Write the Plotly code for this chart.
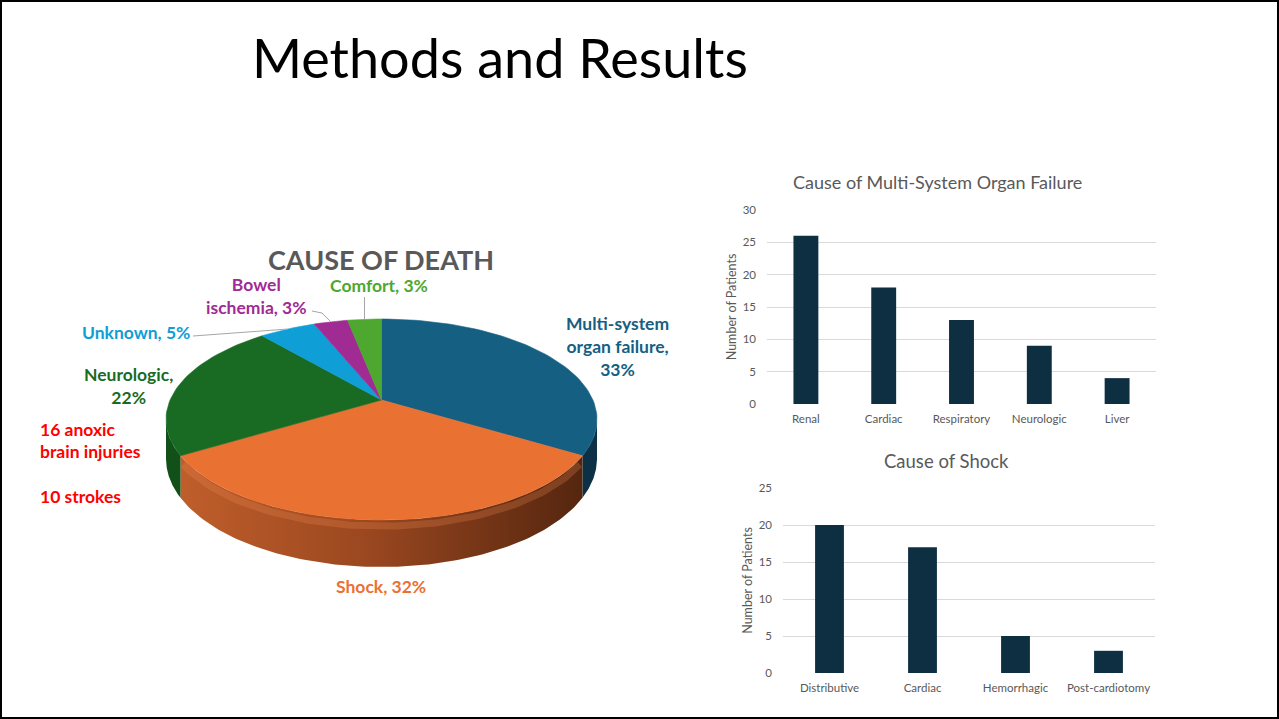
import numpy as np
import plotly.graph_objects as go

W, H = 1279, 719

# ---- Cause of death (percent of deaths) ----
death_names = ["Multi-system organ failure", "Shock", "Neurologic", "Unknown", "Bowel ischemia", "Comfort"]
death_pct = [33, 32, 22, 5, 3, 3]
neuro_breakdown = ["16 anoxic", "brain injuries", "10 strokes"]

# ---- Cause of multi-system organ failure (patients) ----
mof_causes = ["Renal", "Cardiac", "Respiratory", "Neurologic", "Liver"]
mof_counts = [26, 18, 13, 9, 4]

# ---- Cause of shock (patients) ----
shock_causes = ["Distributive", "Cardiac", "Hemorrhagic", "Post-cardiotomy"]
shock_counts = [20, 17, 5, 3]

# styling
top_colors = ["#156082", "#E97132", "#196B24", "#0F9ED5", "#A02B93", "#4EA72E"]
side_colors = ["#0C3146", "#A04A20", "#12501A", "#0A5F82", "#5E1957", "#2E6A1A"]
label_text = [
    "Multi-system<br>organ failure,<br>{p}%",
    "Shock, {p}%",
    "Neurologic,<br>{p}%",
    "Unknown, {p}%",
    "Bowel<br>ischemia, {p}%",
    "Comfort, {p}%",
]
label_pos = [(617, 346), (381, 586), (128, 386), (136, 332), (256, 296), (379, 285)]
leader_start = {3: [(193, 336)], 4: [(312, 311), (322, 313)], 5: [(364.5, 297)]}
BAR = "#0E2F42"
GRAY = "#595959"
GRID = "#D9D9D9"
FONT = "Lato"
LABEL_SIZE = 17.5

# perspective disc: centre of slices, half-width, half-depth, foreshortening, thickness
CX, CY, A, B, K, T = 381.5, 400.0, 211.4, 96.7, 0.194, 37.9


def proj(theta, r=1.0, drop=0.0):
    u = r * np.sin(theta)
    v = r * np.cos(theta)
    den = 1.0 + K * v
    return CX + A * u / den, CY + (-B * v + drop) / den


fig = go.Figure()

frac = np.array(death_pct, float) / np.sum(death_pct)
edges = np.concatenate([[0.0], np.cumsum(frac)]) * 2 * np.pi
vis_lo, vis_hi = np.arccos(-K), 2 * np.pi - np.arccos(-K)

# side walls (front half only)
for i in range(len(death_pct)):
    a0, a1 = max(edges[i], vis_lo), min(edges[i + 1], vis_hi)
    if a1 <= a0:
        continue
    th = np.linspace(a0, a1, 120)
    xt, yt = proj(th)
    xb, yb = proj(th[::-1], drop=T)
    trace = dict(
        x=np.concatenate([xt, xb, xt[:1]]),
        y=np.concatenate([yt, yb, yt[:1]]),
        mode="lines", fill="toself", line=dict(width=0),
        fillcolor=side_colors[i], hoverinfo="skip", showlegend=False,
        xaxis="x", yaxis="y",
    )
    if i == 1:
        trace["fillgradient"] = dict(
            type="horizontal",
            colorscale=[[0, "#BF5E2B"], [0.45, "#9C4820"], [1, "#55260F"]],
        )
    fig.add_trace(go.Scatter(**trace))

# soft bevel along the front edge
th = np.linspace(edges[1] + 0.03, edges[2] - 0.03, 120)
xh, yh = proj(th, drop=5)
fig.add_trace(go.Scatter(x=xh, y=yh, mode="lines", line=dict(color="rgba(240,140,85,0.25)", width=7),
                         hoverinfo="skip", showlegend=False, xaxis="x", yaxis="y"))

# top faces
for i in range(len(death_pct)):
    th = np.linspace(edges[i], edges[i + 1], max(8, int(200 * frac[i])))
    xr, yr = proj(th)
    fig.add_trace(go.Scatter(
        x=np.concatenate([[CX], xr, [CX]]), y=np.concatenate([[CY], yr, [CY]]),
        mode="lines", fill="toself", line=dict(width=0.6, color=top_colors[i]),
        fillcolor=top_colors[i], hoverinfo="skip", showlegend=False, xaxis="x", yaxis="y",
    ))

# leader lines for the small slices
for i, pts in leader_start.items():
    ex, ey = proj((edges[i] + edges[i + 1]) / 2)
    xs = [p[0] for p in pts] + [ex]
    ys = [p[1] for p in pts] + [ey]
    fig.add_trace(go.Scatter(x=xs, y=ys, mode="lines", line=dict(color="#A6A6A6", width=1),
                             hoverinfo="skip", showlegend=False, xaxis="x", yaxis="y"))

annotations = []
for i, p in enumerate(death_pct):
    x, y = label_pos[i]
    annotations.append(dict(
        x=x, y=y, xref="x", yref="y", text="<b>" + label_text[i].format(p=p) + "</b>",
        showarrow=False, xanchor="center", yanchor="middle", align="center",
        font=dict(family=FONT, size=LABEL_SIZE, color=top_colors[i]),
    ))
for txt, y in zip(neuro_breakdown, [429, 451, 496]):
    annotations.append(dict(
        x=38, y=y, xref="x", yref="y", text="<b>" + txt + "</b>", showarrow=False,
        xanchor="left", yanchor="middle", font=dict(family=FONT, size=LABEL_SIZE, color="#FF0000"),
    ))
annotations += [
    dict(x=381, y=259, xref="x", yref="y", text="<b>CAUSE OF DEATH</b>", showarrow=False,
         xanchor="center", yanchor="middle", font=dict(family=FONT, size=27, color=GRAY)),
    dict(x=250, y=57, xref="x", yref="y", text="Methods and Results", showarrow=False,
         xanchor="left", yanchor="middle", font=dict(family=FONT, size=54, color="#000000")),
    dict(x=937, y=182, xref="x", yref="y", text="Cause of Multi-System Organ Failure", showarrow=False,
         xanchor="center", yanchor="middle", font=dict(family=FONT, size=18, color=GRAY)),
    dict(x=946, y=461, xref="x", yref="y", text="Cause of Shock", showarrow=False,
         xanchor="center", yanchor="middle", font=dict(family=FONT, size=18.5, color=GRAY)),
]

# bar charts
fig.add_trace(go.Bar(x=mof_causes, y=mof_counts, marker=dict(color=BAR, line=dict(width=0)),
                     width=0.32, xaxis="x2", yaxis="y2", showlegend=False))
fig.add_trace(go.Bar(x=shock_causes, y=shock_counts, marker=dict(color=BAR, line=dict(width=0)),
                     width=0.31, xaxis="x3", yaxis="y3", showlegend=False))

tickfont = dict(family=FONT, size=11.5, color=GRAY)
titlefont = dict(family=FONT, size=12.5, color=GRAY)
bar_x = dict(showgrid=False, zeroline=False, showline=False, ticks="", tickfont=tickfont,
             fixedrange=True, automargin=False, ticklabelstandoff=6)
bar_y = dict(showgrid=True, gridcolor=GRID, gridwidth=1, zeroline=False, showline=False, ticks="",
             tickfont=tickfont, fixedrange=True, ticklabelstandoff=10, automargin=False,
             title=dict(text="Number of Patients", font=titlefont, standoff=3))


def px_dom(a, b, total):
    return [a / total, b / total]


fig.update_layout(
    template="none",
    width=W, height=H, margin=dict(l=0, r=0, t=0, b=0, pad=0, autoexpand=False),
    paper_bgcolor="white", plot_bgcolor="rgba(0,0,0,0)",
    xaxis=dict(domain=[0, 1], range=[0, W], visible=False, fixedrange=True, automargin=False),
    yaxis=dict(domain=[0, 1], range=[H, 0], visible=False, fixedrange=True, automargin=False),
    xaxis2=dict(domain=px_dom(767, 1156, W), anchor="y2", **bar_x),
    yaxis2=dict(domain=[(H - 404) / H, (H - 210) / H], range=[0, 30], dtick=5, anchor="x2", **bar_y),
    xaxis3=dict(domain=px_dom(783, 1155, W), anchor="y3", **bar_x),
    yaxis3=dict(domain=[(H - 673) / H, (H - 488) / H], range=[0, 25], dtick=5, anchor="x3", **bar_y),
    annotations=annotations,
    shapes=[dict(type="rect", xref="x", yref="y", x0=1, x1=W - 1, y0=1, y1=H - 1,
                 line=dict(color="#000000", width=2), layer="above")],
    showlegend=False,
)

fig.write_html("out.html", config={"displayModeBar": False})
